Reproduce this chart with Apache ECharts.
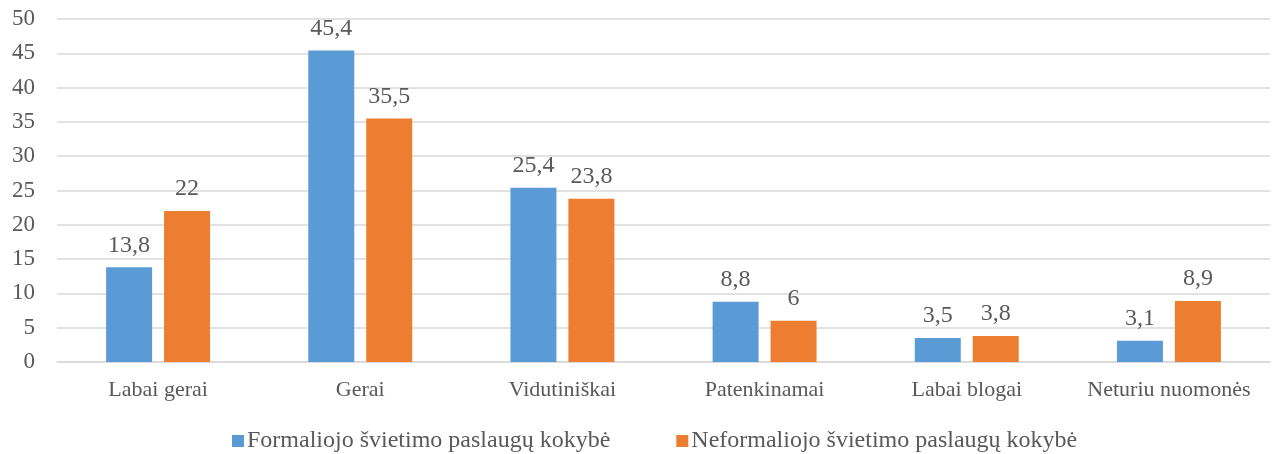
<!DOCTYPE html>
<html><head><meta charset="utf-8">
<script src="https://cdn.jsdelivr.net/npm/echarts@6/dist/echarts.min.js"></script>
<style>html,body{margin:0;padding:0;background:#fff}#c{width:1280px;height:454px}</style>
</head><body><div id="c"></div>
<script>
const categories = ['Labai gerai','Gerai','Vidutiniškai','Patenkinamai','Labai blogai','Neturiu nuomonės'];
const formal = [13.8, 45.4, 25.4, 8.8, 3.5, 3.1];
const nonformal = [22, 35.5, 23.8, 6, 3.8, 8.9];
const seriesNames = ['Formaliojo švietimo paslaugų kokybė','Neformaliojo švietimo paslaugų kokybė'];
const font = '"Liberation Serif", "Times New Roman", serif';
const txt = '#595959';
const fmt = p => String(p.value).replace('.', ',');
const chart = echarts.init(document.getElementById('c'));
chart.setOption({
  animation: false,
  textStyle: {fontFamily: font},
  grid: {left: 57, right: 10, top: 19, bottom: 92, containLabel: false},
  legend: {
    top: 424, left: 227, itemWidth: 12, itemHeight: 12, itemGap: 66,
    icon: 'rect',
    textStyle: {fontFamily: font, fontSize: 24, color: txt, padding: [0,0,0,-2]},
    data: seriesNames
  },
  xAxis: {
    type: 'category', data: categories,
    axisLine: {lineStyle: {color: '#d9d9d9', width: 1.5}},
    axisTick: {show: false},
    axisLabel: {fontFamily: font, fontSize: 22, color: txt, margin: 17, interval: 0}
  },
  yAxis: {
    type: 'value', min: 0, max: 50, interval: 5,
    axisLine: {show: false}, axisTick: {show: false},
    splitLine: {lineStyle: {color: '#d9d9d9', width: 1.5}},
    axisLabel: {fontFamily: font, fontSize: 23, color: txt, margin: 22}
  },
  series: [
    {name: seriesNames[0], type: 'bar', data: formal, barWidth: 46, barGap: '26%',
     itemStyle: {color: '#5B9BD5'},
     label: {show: true, position: 'top', distance: 10, formatter: fmt, fontFamily: font, fontSize: 24, color: txt}},
    {name: seriesNames[1], type: 'bar', data: nonformal, barWidth: 46,
     itemStyle: {color: '#ED7D31'},
     label: {show: true, position: 'top', distance: 10, formatter: fmt, fontFamily: font, fontSize: 24, color: txt}}
  ]
});
</script></body></html>
